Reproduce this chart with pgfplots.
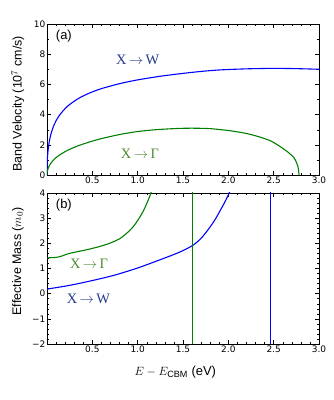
\documentclass[border=0pt]{standalone}
\usepackage{fontspec}
\setmainfont{Liberation Sans}
\newfontfamily\tickfont{DejaVu Sans}
\newfontfamily\lblfont{Liberation Serif}
\usepackage{pgfplots}
\pgfplotsset{compat=1.18}
\definecolor{lblblue}{RGB}{35,60,140}
\definecolor{lblgreen}{RGB}{80,140,50}
\definecolor{lineblue}{RGB}{0,0,255}
\definecolor{linegreen}{RGB}{0,128,0}
\pgfplotsset{
  myax/.style={
    scale only axis, width=272bp, height=151bp,
    xmin=0, xmax=3,
    xtick={0,0.5,1,1.5,2,2.5,3},
    xticklabels={,0.5,1.0,1.5,2.0,2.5,3.0},
    minor x tick num=4,
    tick align=inside,
    major tick length=4bp, minor tick length=2bp,
    every tick/.style={black, line width=0.4pt},
    /pgf/number format/assume math mode=true,
    tick label style={font=\tickfont\fontsize{9}{10}\selectfont},
    xticklabel style={inner sep=1.5bp},
    yticklabel style={inner sep=1.5bp},
    every axis y label/.style={at={(axis description cs:-0.107,0.5)},rotate=90,anchor=center,font=\fontsize{12.5}{14}\selectfont},
    axis line style={black, line width=0.6pt},
  }
}
\begin{document}
\begin{tikzpicture}
\path[use as bounding box] (-47bp,-225bp) rectangle (287bp,175bp);
\begin{axis}[myax, at={(0,0)}, anchor=south west,
  ymin=0, ymax=10, ytick={0,2,4,6,8,10}, minor y tick num=1,
  ylabel={Band Velocity (10$^{7}$ cm/s)},
  every axis y label/.append style={at={(axis description cs:-0.107,0.47)}}]
\addplot[lineblue, line width=1.1pt, smooth, tension=0.4] coordinates {
(0,0) (0.002,0.745) (0.006,1.22) (0.012,1.64) (0.022,2.10) (0.035,2.50) (0.05,2.85)
(0.07,3.20) (0.1,3.59) (0.14,3.98) (0.2,4.40) (0.25,4.67) (0.35,5.08) (0.47,5.43)
(0.6,5.72) (0.8,6.05) (1.0,6.3) (1.25,6.54) (1.5,6.73) (1.7,6.86) (1.91,6.96)
(2.2,7.03) (2.46,7.06) (2.7,7.05) (2.9,7.02) (3.0,7.0)};
\addplot[linegreen, line width=1.1pt, smooth, tension=0.4] coordinates {
(0,0) (0.002,0.18) (0.006,0.31) (0.012,0.43) (0.022,0.57) (0.035,0.71) (0.05,0.84)
(0.07,0.98) (0.1,1.15) (0.14,1.33) (0.2,1.55) (0.25,1.70) (0.35,1.95) (0.47,2.19)
(0.6,2.41) (0.8,2.68) (1.0,2.88) (1.2,3.0) (1.43,3.08) (1.6,3.1) (1.8,3.07)
(2.02,2.93) (2.2,2.75) (2.35,2.51) (2.47,2.25) (2.57,1.89) (2.65,1.55) (2.72,1.18)
(2.75,0.85) (2.77,0.5) (2.78,0)};
\node[font=\fontsize{13}{15}\selectfont, anchor=north west] at (axis description cs:0.02,0.98) {(a)};
\node[font=\lblfont\fontsize{14.5}{16}\selectfont, text=lblblue] at (axis cs:1.0,7.63) {X\,$\rightarrow$\,W};
\node[font=\lblfont\fontsize{14.5}{16}\selectfont, text=lblgreen] at (axis cs:1.025,1.39) {X\,$\rightarrow$\,Γ};
\end{axis}
\begin{axis}[myax, at={(0,-169bp)}, anchor=south west,
  ymin=-2, ymax=4, ytick={-2,-1,0,1,2,3,4}, yticklabels={−2,−1,0,1,2,3,4},
  minor y tick num=4,
  ylabel={Effective Mass ($m_0$)},
  every axis y label/.append style={at={(axis description cs:-0.107,0.546)}},
  xlabel={$E-E_{\mathrm{CBM}}$ (eV)},
  every axis x label/.style={at={(axis description cs:0.472,0)},anchor=center,yshift=-28bp,font=\fontsize{13}{15}\selectfont}]
\addplot[lineblue, line width=1.1pt, smooth, tension=0.5] coordinates {
(0,0.18) (0.25,0.33) (0.5,0.52) (0.75,0.74) (1.0,1.02) (1.25,1.35) (1.45,1.63)
(1.6,1.9) (1.7,2.2) (1.797,2.64) (1.86,2.98) (1.907,3.28) (1.97,3.7) (2.02,4.1) (2.08,4.8) (2.15,6)};
\addplot[lineblue, line width=1.1pt] coordinates {(2.466,100) (2.466,-100)};
\addplot[linegreen, line width=1.1pt, smooth, tension=0.5] coordinates {
(0,1.42) (0.05,1.43) (0.1,1.44) (0.143,1.47) (0.25,1.6) (0.47,1.77) (0.66,1.96) (0.805,2.19)
(0.915,2.52) (0.97,2.75) (1.025,3.05) (1.065,3.3) (1.1,3.58) (1.15,4.04) (1.2,4.8) (1.25,6)};
\addplot[linegreen, line width=1.1pt] coordinates {(1.602,100) (1.602,-100)};
\node[font=\fontsize{13}{15}\selectfont, anchor=north west] at (axis description cs:0.02,0.98) {(b)};
\node[font=\lblfont\fontsize{14.5}{16}\selectfont, text=lblgreen] at (axis cs:0.463,1.2) {X\,$\rightarrow$\,Γ};
\node[font=\lblfont\fontsize{14.5}{16}\selectfont, text=lblblue] at (axis cs:0.457,-0.19) {X\,$\rightarrow$\,W};
\end{axis}
\end{tikzpicture}
\end{document}
